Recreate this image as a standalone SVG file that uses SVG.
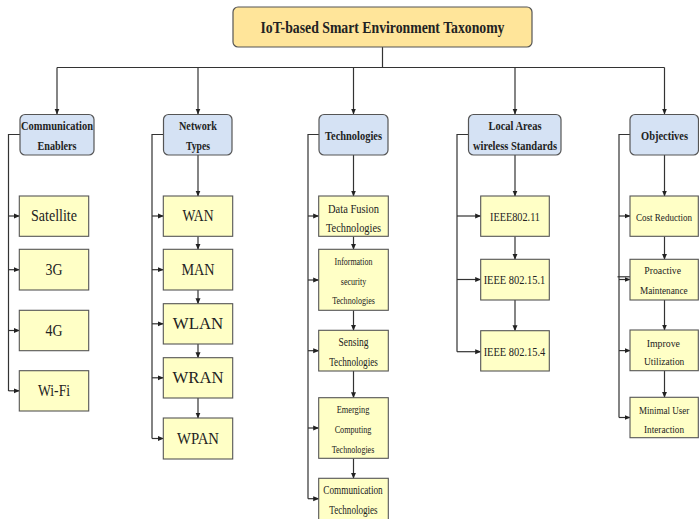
<svg xmlns="http://www.w3.org/2000/svg" width="699" height="519" viewBox="0 0 699 519" font-family="'Liberation Serif', 'Times New Roman', 'DejaVu Serif', serif">
<defs>
<marker id="ah" markerUnits="userSpaceOnUse" markerWidth="6" markerHeight="6" refX="5.5" refY="3" orient="auto">
<path d="M0,0.5 L6,3 L0,5.5 z" fill="#222"/>
</marker>
<style>
.title{fill:#FFE59A;stroke:#555;stroke-width:1.2}
.cat{fill:#D5E2F4;stroke:#555;stroke-width:1.2}
.leaf{fill:#FFFFC6;stroke:#555;stroke-width:1.1}
text{font-family:'Liberation Serif','Times New Roman','DejaVu Serif',serif;fill:#222;text-anchor:middle}
.tb{font-weight:bold;font-size:17px}
.cb{font-weight:bold;font-size:12.5px}
.big{font-size:16px}
.f12{font-size:12.5px}
.f11{font-size:11.5px}
.f10{font-size:10.5px}
.f9{font-size:10px}
.conn line,.conn path{stroke:#333;stroke-width:1.2;fill:none}
.conn .a{marker-end:url(#ah)}
</style>
</defs>
<rect width="699" height="519" fill="#fff"/>

<g class="conn" id="connectors">
<path d="M382.5,47 V67.5 M57,67.5 H664.5"/>
<line class="a" x1="57" y1="67.5" x2="57" y2="114"/>
<line class="a" x1="198" y1="67.5" x2="198" y2="114"/>
<line class="a" x1="353.5" y1="67.5" x2="353.5" y2="114"/>
<line class="a" x1="515" y1="67.5" x2="515" y2="114"/>
<line class="a" x1="664.5" y1="67.5" x2="664.5" y2="114"/>
<path d="M20,134.5 H8.5 V391"/>
<line class="a" x1="8.5" y1="216" x2="19.3" y2="216"/>
<line class="a" x1="8.5" y1="269.7" x2="19.3" y2="269.7"/>
<line class="a" x1="8.5" y1="330.5" x2="19.3" y2="330.5"/>
<line class="a" x1="8.5" y1="390.8" x2="19.3" y2="390.8"/>
<path d="M163.5,134.5 H152 V438.5"/>
<line class="a" x1="152" y1="216" x2="163.3" y2="216"/>
<line class="a" x1="152" y1="269.7" x2="163.3" y2="269.7"/>
<line class="a" x1="152" y1="323.8" x2="163.3" y2="323.8"/>
<line class="a" x1="152" y1="377.8" x2="163.3" y2="377.8"/>
<line class="a" x1="152" y1="438.5" x2="163.3" y2="438.5"/>
<line class="a" x1="198" y1="155" x2="198" y2="196"/>
<line class="a" x1="198" y1="236.3" x2="198" y2="249.3"/>
<line class="a" x1="198" y1="290" x2="198" y2="303.7"/>
<line class="a" x1="198" y1="344" x2="198" y2="357.7"/>
<line class="a" x1="198" y1="398" x2="198" y2="418"/>
<path d="M319,134.5 H308 V498.7"/>
<line class="a" x1="308" y1="216" x2="318.7" y2="216"/>
<line class="a" x1="308" y1="280" x2="318.7" y2="280"/>
<line class="a" x1="308" y1="350.7" x2="318.7" y2="350.7"/>
<line class="a" x1="308" y1="428" x2="318.7" y2="428"/>
<line class="a" x1="308" y1="498.7" x2="318.7" y2="498.7"/>
<line class="a" x1="353.5" y1="155" x2="353.5" y2="196"/>
<line class="a" x1="353.5" y1="236.3" x2="353.5" y2="249.3"/>
<line class="a" x1="353.5" y1="310.3" x2="353.5" y2="330.3"/>
<line class="a" x1="353.5" y1="371" x2="353.5" y2="397.7"/>
<line class="a" x1="353.5" y1="458.3" x2="353.5" y2="478.3"/>
<path d="M468.5,134.5 H457 V351.7"/>
<line class="a" x1="457" y1="216" x2="480.7" y2="216"/>
<line class="a" x1="457" y1="279.5" x2="480.7" y2="279.5"/>
<line class="a" x1="457" y1="351.7" x2="480.7" y2="351.7"/>
<line class="a" x1="515" y1="155" x2="515" y2="196"/>
<line class="a" x1="515" y1="236.3" x2="515" y2="259.3"/>
<line class="a" x1="515" y1="300" x2="515" y2="330.7"/>
<path d="M630,134.5 H619 V417.5"/>
<line class="a" x1="619" y1="216" x2="630" y2="216"/>
<line x1="617.5" y1="276.8" x2="630" y2="276.8"/>
<line class="a" x1="619" y1="279.5" x2="630" y2="279.5"/>
<line class="a" x1="619" y1="350.6" x2="630" y2="350.6"/>
<line class="a" x1="619" y1="417.5" x2="630" y2="417.5"/>
<line class="a" x1="664.5" y1="155" x2="664.5" y2="196"/>
<line class="a" x1="664.5" y1="236.3" x2="664.5" y2="259.3"/>
<line class="a" x1="664.5" y1="300" x2="664.5" y2="330"/>
<line class="a" x1="664.5" y1="370.7" x2="664.5" y2="397.3"/>
</g>

<g id="root">
<rect class="title" x="233" y="7" width="299" height="40" rx="5"/>
<text class="tb" x="382.5" y="33" textLength="244" lengthAdjust="spacingAndGlyphs">IoT-based Smart Environment Taxonomy</text>
</g>

<g id="cat-comm">
<rect class="cat" x="20" y="114.5" width="74" height="40.5" rx="5"/>
<text class="cb" x="57" y="130" textLength="72" lengthAdjust="spacingAndGlyphs">Communication</text>
<text class="cb" x="57" y="149.5" textLength="39" lengthAdjust="spacingAndGlyphs">Enablers</text>
</g>
<g id="cat-network">
<rect class="cat" x="163.5" y="114.5" width="68.5" height="40.5" rx="5"/>
<text class="cb" x="198" y="130" textLength="38" lengthAdjust="spacingAndGlyphs">Network</text>
<text class="cb" x="198" y="149.5" textLength="24" lengthAdjust="spacingAndGlyphs">Types</text>
</g>
<g id="cat-tech">
<rect class="cat" x="319" y="114.5" width="69" height="40.5" rx="5"/>
<text class="cb" x="353.5" y="140" textLength="57" lengthAdjust="spacingAndGlyphs">Technologies</text>
</g>
<g id="cat-local">
<rect class="cat" x="468.5" y="114.5" width="92.5" height="40.5" rx="5"/>
<text class="cb" x="515" y="130" textLength="53" lengthAdjust="spacingAndGlyphs">Local Areas</text>
<text class="cb" x="515" y="149.5" textLength="84" lengthAdjust="spacingAndGlyphs">wireless Standards</text>
</g>
<g id="cat-objectives">
<rect class="cat" x="630" y="114.5" width="68.5" height="40.5" rx="5"/>
<text class="cb" x="664.5" y="140" textLength="47" lengthAdjust="spacingAndGlyphs">Objectives</text>
</g>

<g id="satellite"><rect class="leaf" x="19.3" y="196" width="69.4" height="40.3"/><text class="big" x="54" y="221" textLength="46" lengthAdjust="spacingAndGlyphs">Satellite</text></g>
<g id="g3"><rect class="leaf" x="19.3" y="249.3" width="69.4" height="40.7"/><text class="big" x="54" y="275" textLength="17" lengthAdjust="spacingAndGlyphs">3G</text></g>
<g id="g4"><rect class="leaf" x="19.3" y="310.3" width="69.4" height="40.4"/><text class="big" x="54" y="336" textLength="17" lengthAdjust="spacingAndGlyphs">4G</text></g>
<g id="wifi"><rect class="leaf" x="19.3" y="370.7" width="69.4" height="40.3"/><text class="big" x="54" y="396" textLength="32" lengthAdjust="spacingAndGlyphs">Wi-Fi</text></g>

<g id="wan"><rect class="leaf" x="163.3" y="196" width="69.4" height="40.3"/><text class="big" x="198" y="221" textLength="31" lengthAdjust="spacingAndGlyphs">WAN</text></g>
<g id="man"><rect class="leaf" x="163.3" y="249.3" width="69.4" height="40.7"/><text class="big" x="198" y="275" textLength="33" lengthAdjust="spacingAndGlyphs">MAN</text></g>
<g id="wlan"><rect class="leaf" x="163.3" y="303.7" width="69.4" height="40.3"/><text class="big" x="198" y="329" textLength="50.5" lengthAdjust="spacingAndGlyphs">WLAN</text></g>
<g id="wran"><rect class="leaf" x="163.3" y="357.7" width="69.4" height="40.3"/><text class="big" x="198" y="383" textLength="51" lengthAdjust="spacingAndGlyphs">WRAN</text></g>
<g id="wpan"><rect class="leaf" x="163.3" y="418" width="69.4" height="41"/><text class="big" x="198" y="444" textLength="42" lengthAdjust="spacingAndGlyphs">WPAN</text></g>

<g id="datafusion"><rect class="leaf" x="318.7" y="196" width="69.6" height="40.3"/>
<text class="f12" x="353.5" y="212.5" textLength="51" lengthAdjust="spacingAndGlyphs">Data Fusion</text>
<text class="f12" x="353.5" y="231.5" textLength="55" lengthAdjust="spacingAndGlyphs">Technologies</text></g>
<g id="infosec"><rect class="leaf" x="318.7" y="249.3" width="69.6" height="61"/>
<text class="f9" x="353.5" y="265" textLength="38" lengthAdjust="spacingAndGlyphs">Information</text>
<text class="f9" x="353.5" y="284.7" textLength="25.5" lengthAdjust="spacingAndGlyphs">security</text>
<text class="f9" x="353.5" y="304.3" textLength="42.7" lengthAdjust="spacingAndGlyphs">Technologies</text></g>
<g id="sensing"><rect class="leaf" x="318.7" y="330.3" width="69.6" height="40.7"/>
<text class="f11" x="353.5" y="346" textLength="30" lengthAdjust="spacingAndGlyphs">Sensing</text>
<text class="f11" x="353.5" y="365.5" textLength="48.7" lengthAdjust="spacingAndGlyphs">Technologies</text></g>
<g id="emerging"><rect class="leaf" x="318.7" y="397.7" width="69.6" height="60.6"/>
<text class="f9" x="353" y="413.3" textLength="32.7" lengthAdjust="spacingAndGlyphs">Emerging</text>
<text class="f9" x="353" y="433.3" textLength="36.7" lengthAdjust="spacingAndGlyphs">Computing</text>
<text class="f9" x="353" y="452.5" textLength="42.6" lengthAdjust="spacingAndGlyphs">Technologies</text></g>
<g id="commtech"><rect class="leaf" x="318.7" y="478.3" width="69.6" height="42"/>
<text class="f11" x="353" y="494.3" textLength="59.4" lengthAdjust="spacingAndGlyphs">Communication</text>
<text class="f11" x="353.5" y="514" textLength="48.3" lengthAdjust="spacingAndGlyphs">Technologies</text></g>

<g id="ieee80211"><rect class="leaf" x="480.7" y="196" width="68.6" height="40.3"/><text class="f12" x="515" y="220.7" textLength="50" lengthAdjust="spacingAndGlyphs">IEEE802.11</text></g>
<g id="ieee802151"><rect class="leaf" x="480.7" y="259.3" width="68.6" height="40.7"/><text class="f12" x="514.5" y="284.3" textLength="61.7" lengthAdjust="spacingAndGlyphs">IEEE 802.15.1</text></g>
<g id="ieee802154"><rect class="leaf" x="480.7" y="330.7" width="68.6" height="40.3"/><text class="f12" x="514.5" y="355.7" textLength="61.7" lengthAdjust="spacingAndGlyphs">IEEE 802.15.4</text></g>

<g id="cost"><rect class="leaf" x="630" y="196" width="68.3" height="40.3"/><text class="f10" x="664" y="220.5" textLength="56" lengthAdjust="spacingAndGlyphs">Cost Reduction</text></g>
<g id="proactive"><rect class="leaf" x="630" y="259.3" width="68.3" height="40.7"/>
<text class="f10" x="662.7" y="274" textLength="36.7" lengthAdjust="spacingAndGlyphs">Proactive</text>
<text class="f10" x="663.8" y="294" textLength="47.7" lengthAdjust="spacingAndGlyphs">Maintenance</text></g>
<g id="improve"><rect class="leaf" x="630" y="330" width="68.3" height="40.7"/>
<text class="f10" x="663.3" y="346.7" textLength="33.3" lengthAdjust="spacingAndGlyphs">Improve</text>
<text class="f10" x="664.2" y="365.3" textLength="40.3" lengthAdjust="spacingAndGlyphs">Utilization</text></g>
<g id="minimal"><rect class="leaf" x="630" y="397.3" width="68.3" height="40.4"/>
<text class="f10" x="664.2" y="413.5" textLength="50.3" lengthAdjust="spacingAndGlyphs">Minimal User</text>
<text class="f10" x="664" y="432.7" textLength="40" lengthAdjust="spacingAndGlyphs">Interaction</text></g>
</svg>
